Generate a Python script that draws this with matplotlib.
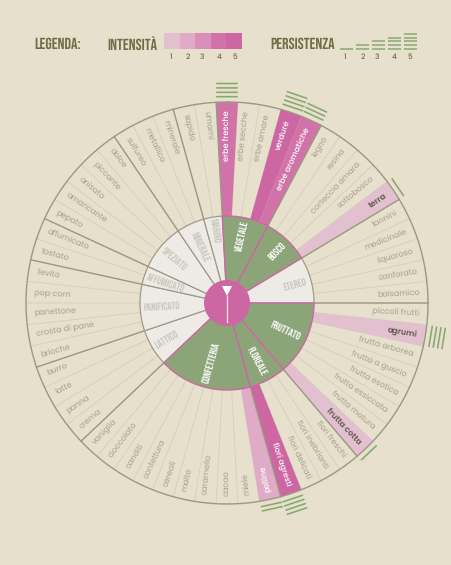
import numpy as np
import matplotlib
matplotlib.use("Agg")
import matplotlib.pyplot as plt

plt.rcParams["text.hinting"] = "no_hinting"

W_, H_ = 452, 565
CX_, CY_ = 227, 303      # centro della ruota in pixel
R_OUT = 201
R_MID = 87
R_HUB = 23
START_ = -3.1            # angolo del primo raggio, gradi in senso orario da nord

BG = "#E6E0CC"
PINK = "#CD67A3"
GREEN = "#8CA578"
LINEA = "#88A872"
PALE = "#EEEBE6"
SPOKE = "#D2CEBC"
HEAVY = "#9B9883"
TXT = "#A5A18D"
OLIVE = "#726B45"
SANS = ["Poppins", "Inter", "DejaVu Sans"]
NARROW = ["Bebas Neue", "Liberation Sans", "DejaVu Sans"]

aromi = ["erbe fresche", "erbe secche", "erbe amare", "verdure", "erbe aromatiche",
         "legno", "resina", "corteccia amara", "sottobosco", "terra",
         "tannini", "medicinale", "liquoroso", "canforato", "balsamico",
         "piccoli frutti", "agrumi", "frutta arborea", "frutta a guscio", "frutta esotica",
         "frutta essiccata", "frutta matura", "frutta cotta",
         "fiori freschi", "fiori inebrianti", "fiori delicati", "fiori agresti",
         "polline", "miele", "cacao", "caramello", "malto", "cereali", "confettura",
         "canditi", "cioccolato", "vaniglia",
         "crema", "panna", "latte", "burro",
         "brioche", "crosta di pane", "panettone", "pop corn", "lievito",
         "tostato", "affumicato",
         "pepato", "amaricante", "anisato", "piccante", "dolce",
         "sulfureo", "metallico", "minerale",
         "sapido", "umami"]

famiglie = ["VEGETALE", "BOSCO", "ETEREO", "FRUTTATO", "FLOREALE", "CONFETTERIA",
            "LATTICO", "PANIFICATO", "AFFUMICATO", "SPEZIATO", "MINERALE", "MARINO"]
quanti = [5, 5, 5, 8, 4, 10, 4, 5, 2, 5, 3, 2]
presenti = ["VEGETALE", "BOSCO", "FRUTTATO", "FLOREALE", "CONFETTERIA"]

intensita = {"erbe fresche": 4, "verdure": 5, "erbe aromatiche": 4, "terra": 1, "agrumi": 1,
             "frutta cotta": 1, "fiori agresti": 5, "polline": 2}
persistenza = {"erbe fresche": 4, "verdure": 4, "erbe aromatiche": 3, "terra": 1, "agrumi": 4,
               "frutta cotta": 1, "fiori agresti": 4, "polline": 2}

livelli = [1, 2, 3, 4, 5]
colori_int = ["#E3C0CF", "#DFABC6", "#D98FBA", "#D173A9", "#CD67A3"]

# distanza dal centro delle scritte di famiglia, stesso ordine di famiglie
r_scritte = [69, 72, 71, 65, 65, 62, 70, 65, 65, 69, 62, 73]

N_ = len(aromi)
STEP_ = 360 / N_


def rad_(i_):                            # angolo del raggio i in radianti
    return np.radians(START_ + i_ * STEP_)


def f_legenda(ax):
    ax.set_xlim(0, W_)
    ax.set_ylim(H_, 0)
    ax.axis("off")
    kw = dict(family=NARROW, color=OLIVE, fontsize=11.6, va="center", weight="bold")
    ax.text(34, 43.5, "LEGENDA:", **kw)
    ax.text(107, 43.5, "INTENSITÀ", **kw)
    ax.text(270, 43.5, "PERSISTENZA", **kw)
    x_ = 171.8 + (np.array(livelli) - 1) * 15.6
    ax.bar(x_, 16, width=15.6, bottom=33, color=colori_int, linewidth=0)
    for n_, t_ in zip(livelli, [170.5, 187.7, 202, 219, 235]):
        ax.text(t_, 57, str(n_), family=SANS, weight="medium", color=OLIVE, fontsize=5.4,
                ha="center", va="center")
    for n_, s_, t_ in zip(livelli, [340, 356, 372, 388, 404], [345, 362.7, 376.7, 394.3, 410]):
        for k_ in range(n_):
            ax.plot([s_, s_ + 13], [48.7 - k_ * 3.65] * 2, color=LINEA, lw=1.1,
                    solid_capstyle="butt")
        ax.text(t_, 57, str(n_), family=SANS, weight="medium", color=OLIVE, fontsize=5.4,
                ha="center", va="center")


def f_settori(ax):
    # raggi sottili, poi fasce evidenziate, poi raggi di famiglia
    for i_ in range(N_):
        ax.plot([rad_(i_)] * 2, [R_MID, R_OUT], color=SPOKE, lw=0.55, zorder=2)
    for i_, nome_ in enumerate(aromi):
        if nome_ in intensita:
            ax.bar(rad_(i_ + 0.5), R_OUT - R_MID, width=np.radians(STEP_), bottom=R_MID,
                   color=colori_int[intensita[nome_] - 1], linewidth=0, zorder=3)
    c_ = 0
    for nome_, q_, rs_ in zip(famiglie, quanti, r_scritte):
        t0_ = rad_(c_ + q_ / 2)
        w_ = np.radians(q_ * STEP_)
        if nome_ in presenti:
            ax.bar(t0_, R_MID, width=w_, color=GREEN, edgecolor=PINK, linewidth=1.0, zorder=6)
        else:
            ax.bar(t0_, R_MID, width=w_, color=PALE, edgecolor=HEAVY, linewidth=0.85, zorder=5)
        ax.plot([rad_(c_)] * 2, [R_MID, R_OUT], color=HEAVY, lw=1.0, zorder=4)
        gradi_ = (START_ + (c_ + q_ / 2) * STEP_) % 360
        rot_ = 90 - gradi_ if gradi_ < 180 else 270 - gradi_
        ax.text(t0_, rs_, nome_, family=NARROW, fontsize=7.6,
                color="white" if nome_ in presenti else "#C9C6BE",
                rotation=rot_, rotation_mode="anchor", ha="center", va="center", zorder=8)
        c_ += q_
    ax.plot(np.radians(np.linspace(0, 360, 361)), [R_OUT] * 361, color=HEAVY, lw=1.0, zorder=4)
    ax.bar(0, R_HUB, width=2 * np.pi, color=PINK, linewidth=0, zorder=9)


def f_etichette(ax):
    for i_, nome_ in enumerate(aromi):
        t_ = rad_(i_ + 0.5)
        gradi_ = np.degrees(t_) % 360
        destra_ = gradi_ < 165
        rot_ = 90 - gradi_ if destra_ else 270 - gradi_
        col_, pes_ = TXT, "normal"
        if nome_ in intensita:
            scuro_ = intensita[nome_] == 1
            col_, pes_ = ("#5E574C", "semibold") if scuro_ else ("white", "medium")
        ax.text(t_, 193, nome_, family=SANS, fontsize=5.8, color=col_, weight=pes_,
                rotation=rot_, rotation_mode="anchor", ha="right" if destra_ else "left",
                va="center", zorder=7)


def f_persistenza(ax):
    # tratti diritti e paralleli oltre il bordo, uno per ogni livello
    for nome_, n_ in persistenza.items():
        t_ = rad_(aromi.index(nome_) + 0.5)
        for k_ in range(n_):
            r_ = 206.3 + 4.4 * k_
            d_ = np.arctan(10.8 / r_)
            q_ = np.hypot(r_, 10.8)
            ax.plot([t_ - d_, t_ + d_], [q_, q_], color=LINEA, lw=1.15, zorder=4,
                    solid_capstyle="butt", clip_on=False)


def f_bicchiere(ax):
    ax.fill([222, 232, 227], [286, 286, 296], color="white", lw=0, zorder=10)
    ax.plot([227, 227], [296, 322], color=PALE, lw=0.9, zorder=10)


fig = plt.figure(figsize=(W_ / 100, H_ / 100), dpi=100, facecolor=BG)
base = fig.add_axes([0, 0, 1, 1])
f_legenda(base)

RMAX = 226
polar = fig.add_axes([(CX_ - RMAX) / W_, (H_ - CY_ - RMAX) / H_, 2 * RMAX / W_, 2 * RMAX / H_],
                     projection="polar")
polar.set_theta_zero_location("N")
polar.set_theta_direction(-1)
polar.set_rlim(0, RMAX)
polar.axis("off")
polar.patch.set_alpha(0)
f_settori(polar)
f_etichette(polar)
f_persistenza(polar)

top = fig.add_axes([0, 0, 1, 1])
top.set_xlim(0, W_)
top.set_ylim(H_, 0)
top.axis("off")
top.patch.set_alpha(0)
f_bicchiere(top)

fig.savefig("out.png", dpi=100, facecolor=BG)
plt.close()
